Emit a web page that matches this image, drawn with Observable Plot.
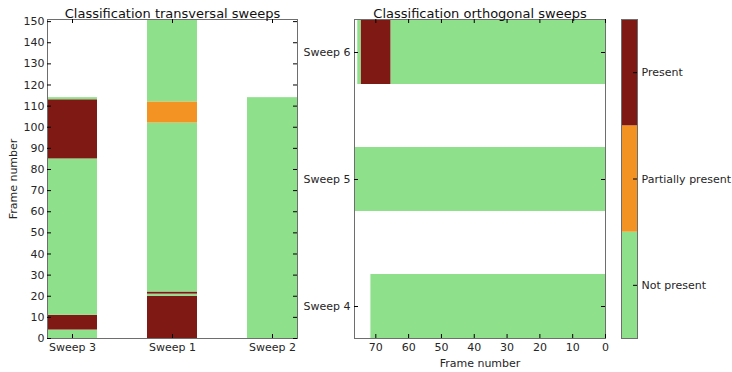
<!DOCTYPE html>
<html>
<head>
<meta charset="utf-8">
<script src="https://cdn.jsdelivr.net/npm/d3@7"></script>
<script src="https://cdn.jsdelivr.net/npm/@observablehq/plot@0.6"></script>
<style>
  body { margin: 0; background: white; }
  #wrap { position: relative; width: 732px; height: 372px; overflow: hidden; }
  #wrap > svg { position: absolute; top: 0; }
</style>
</head>
<body>
<div id="wrap"></div>
<script>
// ---- data ----
const classNames = ["Not present", "Partially present", "Present"];
const classColors = ["#8ee08b", "#f39323", "#7f1914"];

const transSweeps = ["Sweep 3", "Sweep 1", "Sweep 2"];
// segment boundaries (frame numbers) and class per segment
const sweep3Bounds = [0, 4, 11, 85, 113, 114];
const sweep3Classes = ["Not present", "Present", "Not present", "Present", "Not present"];
const sweep1Bounds = [0, 20, 21, 22, 102, 112, 151];
const sweep1Classes = ["Present", "Not present", "Present", "Not present", "Partially present", "Not present"];
const sweep2Bounds = [0, 114];
const sweep2Classes = ["Not present"];

const orthoSweeps = ["Sweep 6", "Sweep 5", "Sweep 4"];
const sweep6Bounds = [0, 65.4, 74.5, 75.5];
const sweep6Classes = ["Not present", "Present", "Not present"];
const sweep5Bounds = [0, 76.5];
const sweep5Classes = ["Not present"];
const sweep4Bounds = [0, 71.5];
const sweep4Classes = ["Not present"];

const frameTicksLeft = [0,10,20,30,40,50,60,70,80,90,100,110,120,130,140,150];
const frameTicksRight = [0,10,20,30,40,50,60,70];
const frameMaxLeft = 151;
const frameMaxRight = 76.5;

function segs(name, bounds, classes) {
  return classes.map((c, i) => ({sweep: name, a: bounds[i], b: bounds[i + 1], cls: c}));
}
const leftData = [
  ...segs("Sweep 3", sweep3Bounds, sweep3Classes),
  ...segs("Sweep 1", sweep1Bounds, sweep1Classes),
  ...segs("Sweep 2", sweep2Bounds, sweep2Classes)
];
const rightData = [
  ...segs("Sweep 6", sweep6Bounds, sweep6Classes),
  ...segs("Sweep 5", sweep5Bounds, sweep5Classes),
  ...segs("Sweep 4", sweep4Bounds, sweep4Classes)
];

const font = "DejaVu Sans, Verdana, sans-serif";
const textColor = "#262626";
const frameColor = "#6e6e6e";
const color = {type: "ordinal", domain: classNames, range: classColors};
const wrap = document.getElementById("wrap");

// ---- left panel ----
const W1 = 300, ML1 = 47, MR1 = 3, MT = 19, MB = 34, H = 372;
const left = Plot.plot({
  width: W1, height: H, marginLeft: ML1, marginRight: MR1, marginTop: MT, marginBottom: MB,
  style: {fontFamily: font, fontSize: "11px", color: textColor, background: "transparent", overflow: "visible"},
  x: {type: "band", domain: transSweeps, paddingInner: 0.5, paddingOuter: 0},
  y: {domain: [0, frameMaxLeft]},
  color,
  marks: [
    Plot.barY(leftData, {x: "sweep", y1: "a", y2: "b", fill: "cls"}),
    Plot.frame({stroke: frameColor}),
    Plot.tickY(frameTicksLeft, {y: d => d, stroke: "black", insetRight: W1 - ML1 - MR1 - 4}),
    Plot.tickY(frameTicksLeft, {y: d => d, stroke: "black", insetLeft: W1 - ML1 - MR1 - 4}),
    Plot.tickX(transSweeps, {x: d => d, stroke: "black", insetTop: H - MT - MB - 4}),
    Plot.tickX(transSweeps, {x: d => d, stroke: "black", insetBottom: H - MT - MB - 4}),
    Plot.axisY({ticks: frameTicksLeft, tickSize: 0, tickPadding: 3, label: "Frame number",
      labelAnchor: "center", labelArrow: "none", labelOffset: 38, fill: textColor}),
    Plot.axisX({tickSize: 0, tickPadding: 5, label: null, fill: textColor}),
    Plot.text(["Classification transversal sweeps"], {frameAnchor: "top", dy: -11, fontSize: 13, fill: "#111"})
  ]
});
left.style.left = "0px";
wrap.appendChild(left);

// ---- right panel ----
const X2 = 300, W2 = 310, ML2 = 54, MR2 = 5;
const right = Plot.plot({
  width: W2, height: H, marginLeft: ML2, marginRight: MR2, marginTop: MT, marginBottom: MB,
  style: {fontFamily: font, fontSize: "11px", color: textColor, background: "transparent", overflow: "visible"},
  x: {domain: [0, frameMaxRight], reverse: true},
  y: {type: "band", domain: orthoSweeps, paddingInner: 0.5, paddingOuter: 0},
  color,
  marks: [
    Plot.barX(rightData, {y: "sweep", x1: "a", x2: "b", fill: "cls"}),
    Plot.frame({stroke: frameColor}),
    Plot.tickX(frameTicksRight, {x: d => d, stroke: "black", insetTop: H - MT - MB - 4}),
    Plot.tickX(frameTicksRight, {x: d => d, stroke: "black", insetBottom: H - MT - MB - 4}),
    Plot.tickY(orthoSweeps, {y: d => d, stroke: "black", insetRight: W2 - ML2 - MR2 - 4}),
    Plot.tickY(orthoSweeps, {y: d => d, stroke: "black", insetLeft: W2 - ML2 - MR2 - 4}),
    Plot.axisX({ticks: frameTicksRight, tickSize: 0, tickPadding: 5, label: "Frame number",
      labelAnchor: "center", labelArrow: "none", labelOffset: 28, fill: textColor}),
    Plot.axisY({tickSize: 0, tickPadding: 4, label: null, fill: textColor}),
    Plot.text(["Classification orthogonal sweeps"], {frameAnchor: "top", dy: -11, fontSize: 13, fill: "#111"})
  ]
});
right.style.left = X2 + "px";
wrap.appendChild(right);

// ---- colorbar ----
const X3 = 610, W3 = 122, ML3 = 11, MR3 = W3 - ML3 - 16;
const cbTicks = classNames.map((c, i) => i + 0.5);
const cbar = Plot.plot({
  width: W3, height: H, marginLeft: ML3, marginRight: MR3, marginTop: MT, marginBottom: MB,
  style: {fontFamily: font, fontSize: "11px", color: textColor, background: "transparent", overflow: "visible"},
  x: {domain: [0, 1], axis: null},
  y: {domain: [0, classNames.length]},
  color,
  marks: [
    Plot.rectY(classNames, {x1: 0, x2: 1, y1: (d, i) => i, y2: (d, i) => i + 1, fill: d => d}),
    Plot.frame({stroke: frameColor}),
    Plot.tickY(cbTicks, {y: d => d, stroke: "black", insetLeft: 12}),
    Plot.axisY({anchor: "right", ticks: cbTicks, tickSize: 0, tickPadding: 4, label: null,
      tickFormat: v => classNames[Math.floor(v)], fill: textColor})
  ]
});
cbar.style.left = X3 + "px";
wrap.appendChild(cbar);
</script>
</body>
</html>
